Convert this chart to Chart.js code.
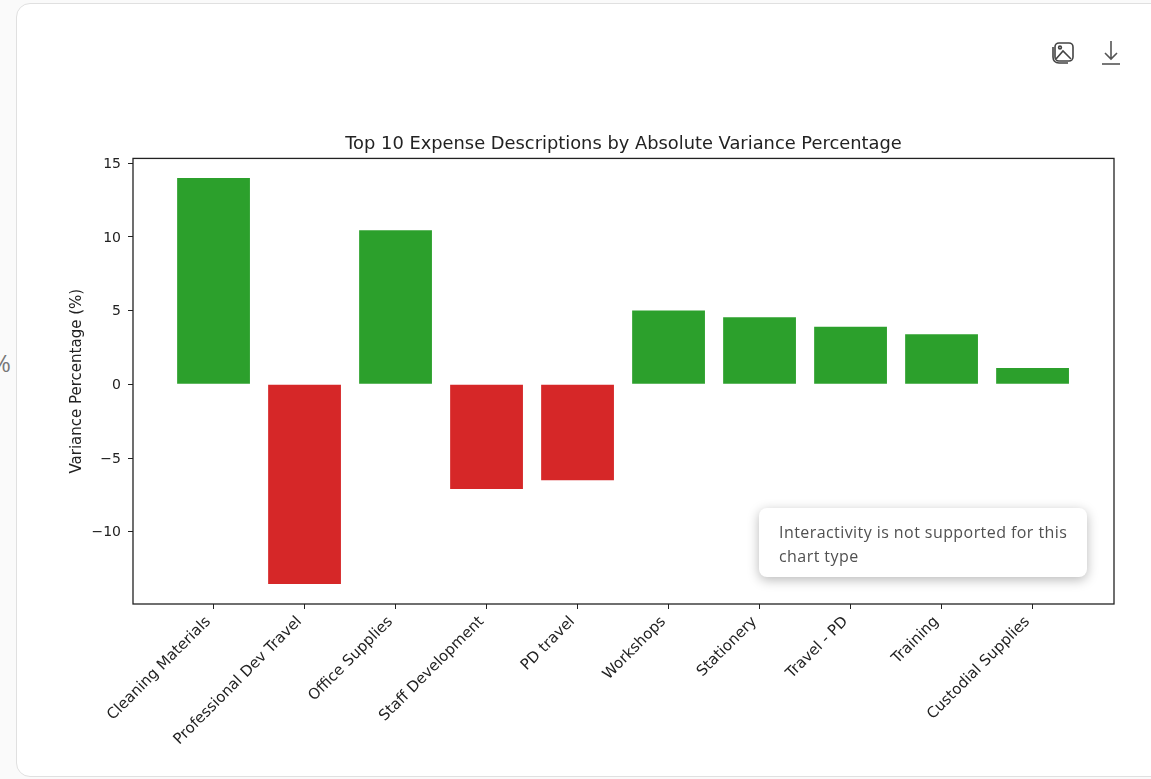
<!DOCTYPE html>
<html>
<head>
<meta charset="utf-8">
<title>Top 10 Expense Descriptions</title>
<script src="https://cdn.jsdelivr.net/npm/chart.js@4"></script>
<style>
  html, body { margin: 0; padding: 0; width: 1151px; height: 779px; overflow: hidden; background: #fafafa; }
  #card { position: absolute; left: 16px; top: 3px; width: 1200px; height: 772px; background: #fff; border: 1.5px solid #e0e0e0; border-radius: 14px; }
  #chart { position: absolute; left: 0; top: 0; }
  #pct { position: absolute; left: -9px; top: 346px; font: 24px "Open Sans", sans-serif; color: #777; }
  #note { position: absolute; left: 759px; top: 508px; width: 328px; height: 69px; box-sizing: border-box; padding: 12px 10px 0 20px; background: #fff; border-radius: 8px;
    box-shadow: 0 3px 12px rgba(0,0,0,.28); font: 16px/24px "Open Sans", sans-serif; letter-spacing: .43px; color: #505050; }
  .icon { position: absolute; top: 40px; }
</style>
</head>
<body>
<div id="pct">%</div>
<div id="card"></div>
<canvas id="chart" width="1151" height="779"></canvas>
<svg class="icon" style="left:1051px" width="24" height="26" viewBox="0 0 24 26" fill="none" stroke="#444" stroke-width="1.6">
  <rect x="4" y="3" width="18" height="18" rx="4"/>
  <path d="M2 7v10c0 3 2 6 6 6h9"/>
  <path d="M5 19l7-8 8 8"/>
  <circle cx="9" cy="7.5" r="1.4"/>
</svg>
<svg class="icon" style="left:1100px" width="22" height="26" viewBox="0 0 22 26" fill="none" stroke="#555" stroke-width="1.6">
  <path d="M11 1v18M5 13l6 6 6-6"/>
  <path d="M2 24h18"/>
</svg>
<div id="note">Interactivity is not supported for this chart type</div>
<script>
const categories = ['Cleaning Materials', 'Professional Dev Travel', 'Office Supplies', 'Staff Development', 'PD travel', 'Workshops', 'Stationery', 'Travel - PD', 'Training', 'Custodial Supplies'];
const variance = [14.0, -13.55, 10.45, -7.1, -6.5, 5.0, 4.55, 3.9, 3.4, 1.1];
const yTicks = [-10, -5, 0, 5, 10, 15];
const font = 'DejaVu Sans';
const ink = '#222';

// matplotlib style box round the plot
const frame = {
  id: 'frame',
  afterDatasetsDraw(chart) {
    const { ctx, chartArea: a } = chart;
    ctx.save();
    ctx.strokeStyle = ink;
    ctx.lineWidth = 1.3;
    ctx.strokeRect(a.left, a.top, a.right - a.left, a.bottom - a.top);
    ctx.restore();
  }
};

new Chart(document.getElementById('chart'), {
  type: 'bar',
  data: {
    datasets: [{
      data: variance.map((v, i) => ({ x: i, y: v })),
      backgroundColor: variance.map(v => v >= 0 ? '#2ca02c' : '#d62728'),
      barPercentage: 0.8,
      categoryPercentage: 1
    }]
  },
  options: {
    responsive: false,
    animation: false,
    layout: { padding: { left: 60, right: 37, top: 134, bottom: 0 } },
    plugins: {
      legend: { display: false },
      tooltip: { enabled: false },
      title: {
        display: true,
        fullSize: false,
        text: 'Top 10 Expense Descriptions by Absolute Variance Percentage',
        color: ink,
        font: { family: font, size: 17.85, weight: 'normal', lineHeight: 1.2 },
        padding: { top: 0, bottom: 3 }
      }
    },
    scales: {
      x: {
        type: 'linear',
        offset: false,
        min: -0.885,
        max: 9.895,
        grid: { offset: false, drawOnChartArea: false, tickLength: 5, tickColor: ink },
        border: { display: false },
        afterBuildTicks: s => { s.ticks = categories.map((c, i) => ({ value: i })); },
        afterFit: s => { s.height = 175; },
        ticks: {
          autoSkip: false,
          maxRotation: 45,
          minRotation: 45,
          color: ink,
          font: { family: font, size: 15 },
          padding: 4,
          labelOffset: -5,
          callback: v => categories[v]
        }
      },
      y: {
        min: -14.9,
        max: 15.32,
        grid: { drawOnChartArea: false, tickLength: 5, tickColor: ink },
        border: { display: false },
        afterBuildTicks: s => { s.ticks = yTicks.map(v => ({ value: v })); },
        afterFit: s => { s.width = 73; },
        title: { display: true, text: 'Variance Percentage (%)', color: ink, font: { family: font, size: 15 }, padding: { top: 8.5, bottom: 0 } },
        ticks: {
          color: ink,
          font: { family: font, size: 14 },
          padding: 7,
          labelOffset: 1,
          callback: v => String(v).replace('-', '\u2212')
        }
      }
    }
  },
  plugins: [frame]
});
</script>
</body>
</html>
